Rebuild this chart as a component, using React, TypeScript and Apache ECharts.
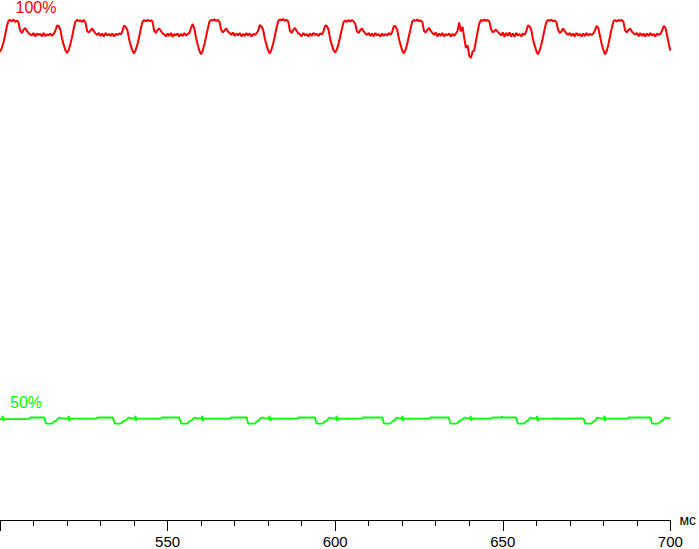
import React, { useEffect, useRef } from "react";
import * as echarts from "echarts";

// time axis (ms)
const X_MIN = 500;
const X_MAX = 700;
const X_LABEL_STEP = 50;
// red trace is sampled every 0.5 ms starting at 500 ms
const RED_T0 = 500;
const RED_STEP = 0.5;

// red trace (brightness 100%), arbitrary units, one array per flicker period
const redP0 = [469, 472.5, 478, 485.5, 494, 500, 501, 499.5, 501.5, 499, 500.5, 499, 490.5, 488, 491, 493, 490, 488, 486.5, 485.5, 488, 484.5, 487.5, 486, 487, 484.5, 488, 485, 486.5, 485.5, 487.5, 485, 487, 490, 495.5, 495, 491.5, 482.5, 476, 471];
const redP1 = [468, 471, 477, 484, 492.5, 499.5, 501, 500, 500.5, 499, 501, 498.5, 490, 488.5, 490.5, 492.5, 489.5, 487.5, 486, 488, 485, 487.5, 484.5, 488, 485.5, 487, 485, 487.5, 484.5, 487, 486, 487.5, 486.5, 489.5, 495.5, 494, 491, 482, 475.5, 470.5];
const redP2 = [467.5, 471, 476.5, 484, 492, 499, 501, 499.5, 501, 500, 500.5, 499.5, 490, 488, 491, 492.5, 490, 487.5, 486.5, 484.5, 487.5, 485, 488, 484, 487, 485.5, 487.5, 484.5, 487, 485, 488, 485.5, 487, 488, 493, 497, 492, 483, 476, 470];
const redP3 = [466.5, 470.5, 477, 484.5, 492.5, 499.5, 501, 500.5, 501.5, 500, 501, 499, 491, 488.5, 490.5, 492.5, 489.5, 488, 486, 488.5, 485, 487.5, 485.5, 488, 484.5, 487, 485, 488, 485.5, 487.5, 484.5, 487, 486, 487.5, 490, 496, 494.5, 491.5, 482.5, 476, 470.5];
const redP4 = [467.5, 471.5, 477.5, 485, 493, 500, 501.5, 500.5, 502, 500, 501, 499.5, 490, 488, 491, 493, 490, 487.5, 486.5, 484.5, 488, 485.5, 487, 484.5, 487.5, 485, 488, 486, 487, 485, 487.5, 486.5, 489.5, 495.5, 495, 491.5, 482, 476, 470.5];
const redP5 = [468.5, 471.5, 477, 484.5, 492, 499, 500.5, 499, 501, 499.5, 501, 499.5, 497, 489.5, 488, 491, 492.5, 489.5, 487.5, 486, 488, 485, 487.5, 484.5, 488, 485.5, 487, 484.5, 487.5, 485, 487, 485.5, 488, 486, 489, 495, 494.5, 491, 482.5, 476, 470.5];
const redP6 = [467.5, 471, 477.5, 485, 492.5, 499.5, 501, 500, 501.5, 499.5, 500.5, 499, 490, 488.5, 491, 493, 490, 488, 486, 488.5, 484.5, 487.5, 485, 488, 484.5, 487, 485.5, 487.5, 484.5, 487, 485, 487.5, 490, 498.5, 489.5, 494, 483, 473, 475.5, 465];
const redP7 = [463, 469.5, 470.5, 480, 489.5, 497.5, 501, 500, 501.5, 500, 501, 499.5, 492, 488.5, 490, 491.5, 489, 487.5, 485.5, 488.5, 484, 488, 485, 488.5, 484.5, 487.5, 484, 488, 485.5, 487, 484.5, 487.5, 486, 489.5, 495.5, 494.5, 491, 482, 475.5, 470];
const redP8 = [466.5, 470.5, 476.5, 484, 492, 499, 501, 500, 501.5, 499.5, 500.5, 499, 491, 488, 489.5, 492.5, 490, 487.5, 486, 488, 485, 487.5, 484.5, 488, 485.5, 487, 484.5, 487.5, 485, 488, 485.5, 487, 486, 487.5, 490.5, 495, 493, 485, 477, 471];
const redP9 = [466.5, 470, 476.5, 484.5, 492.5, 499.5, 501, 499.5, 501, 500, 501, 499, 490.5, 488.5, 491, 492.5, 489.5, 487.5, 486.5, 488, 484.5, 488, 485, 487.5, 484.5, 487.5, 485, 488, 485.5, 487, 484.5, 487.5, 486, 487, 490, 495, 493.5, 486, 477.5, 470.5];
const redValues = [...redP0, ...redP1, ...redP2, ...redP3, ...redP4, ...redP5, ...redP6, ...redP7, ...redP8, ...redP9];

// green trace (brightness 50%): [time ms, value] breakpoints
const greenPoints: [number, number][] = [
  [500.0, 101], [500.6, 101], [500.8, 104.3], [501.0, 99.3], [501.2, 101], [508.5, 101], [509.0, 102.7],
  [513.2, 102.7], [513.7, 97], [514.0, 96.5], [515.5, 96.5], [516.3, 99], [516.8, 99.5], [517.6, 102.7], [518.3, 102],
  [520.3, 101.5], [520.5, 104.3], [520.7, 99.3], [520.9, 101.5], [528.8, 101.5], [529.2, 102.7],
  [533.7, 102.7], [534.2, 97], [534.5, 96.5], [536.0, 96.5], [536.8, 99], [537.3, 99.5], [538.4, 102.7], [539.0, 102],
  [540.2, 101.5], [540.4, 104.3], [540.6, 99.3], [540.8, 101.5], [548.0, 101.5], [548.5, 102.7],
  [553.5, 102.7], [554.0, 97], [554.3, 96.5], [555.9, 96.5], [556.6, 99], [557.1, 99.5], [558.0, 102.7], [558.7, 102],
  [560.1, 101.5], [560.3, 104.3], [560.5, 99.3], [560.7, 101.5], [568.5, 101.5], [569.0, 102.7],
  [573.6, 102.7], [574.0, 97], [574.3, 96.5], [575.9, 96.5], [576.7, 99], [577.1, 99.5], [577.9, 102.7], [578.6, 102],
  [580.2, 101.5], [580.4, 104.3], [580.6, 99.3], [580.8, 101.5], [588.8, 101.5], [589.2, 102.7],
  [594.0, 102.7], [594.4, 97], [594.7, 96.5], [596.3, 96.5], [597.1, 99], [597.5, 99.5], [598.2, 102.7], [598.9, 102],
  [600.2, 101.5], [600.4, 104.3], [600.6, 99.3], [600.8, 101.5], [608.0, 101.5], [608.4, 102.7],
  [614.1, 102.7], [614.5, 97], [614.8, 96.5], [616.4, 96.5], [617.2, 99], [617.6, 99.5], [618.3, 102.7], [619.0, 102],
  [619.8, 101.5], [620.0, 104.3], [620.2, 99.3], [620.4, 101.5], [628.0, 101.5], [628.4, 102.7],
  [633.9, 102.7], [634.3, 97], [634.6, 96.5], [636.2, 96.5], [637.0, 99], [637.4, 99.5], [638.6, 102.7], [639.3, 102],
  [640.2, 101.5], [640.4, 104.3], [640.6, 99.3], [640.8, 101.5], [646.6, 101.5], [647.0, 102.7],
  [649.6, 102.7], [649.8, 103.7], [650.0, 102.7],
  [654.0, 102.7], [654.4, 97], [654.7, 96.5], [656.3, 96.5], [657.1, 99], [657.5, 99.5], [658.2, 102.7], [658.9, 102],
  [660.0, 101.5], [660.2, 104.3], [660.4, 99.3], [660.6, 101.5], [665.5, 101.5], [665.7, 102.5], [665.9, 101.5],
  [674.1, 101.7], [674.5, 97], [674.8, 96.5], [676.4, 96.5], [677.2, 99], [677.6, 99.5], [678.1, 102.7], [678.8, 102],
  [680.1, 101.5], [680.3, 104.3], [680.5, 99.3], [680.7, 101.5], [687.3, 101.5], [687.6, 102.7],
  [694.1, 102.7], [694.5, 97], [694.8, 96.5], [696.4, 96.5], [697.2, 99], [697.6, 99.5], [698.4, 102.7], [699.0, 102.2], [700.0, 102],
];

const LABEL_RED = "100%";
const LABEL_GREEN = "50%";
const X_UNIT = "мс";

const FONT = "'Liberation Sans', Arial, sans-serif";

export default function App() {
  const ref = useRef<HTMLDivElement>(null);
  useEffect(() => {
    if (!ref.current) return;
    const chart = echarts.init(ref.current, undefined, { renderer: "svg" });
    const redData = redValues.map((v, i) => [RED_T0 + i * RED_STEP, v]);
    chart.setOption({
      animation: false,
      backgroundColor: "#ffffff",
      grid: { left: 0, right: 27, top: 0, bottom: 28, containLabel: false },
      xAxis: {
        type: "value",
        min: X_MIN,
        max: X_MAX,
        interval: X_LABEL_STEP,
        name: X_UNIT,
        nameLocation: "end",
        nameGap: 9,
        nameTextStyle: { color: "#000", fontSize: 14, fontFamily: FONT },
        axisLine: { show: true, lineStyle: { color: "#000", width: 1 } },
        axisTick: { show: true, length: 11, lineStyle: { color: "#000", width: 1 } },
        minorTick: { show: true, splitNumber: 5, length: 6, lineStyle: { color: "#000", width: 1 } },
        axisLabel: { color: "#000", fontSize: 15, fontFamily: FONT, margin: 14, showMinLabel: false },
        splitLine: { show: false },
        minorSplitLine: { show: false },
      },
      yAxis: { type: "value", min: 0, max: 521, show: false },
      series: [
        {
          type: "line",
          data: redData,
          showSymbol: false,
          symbol: "none",
          lineStyle: { color: "#ff0000", width: 2 },
          z: 3,
        },
        {
          type: "line",
          data: greenPoints,
          showSymbol: false,
          symbol: "none",
          lineStyle: { color: "#00ff00", width: 1.8 },
          z: 2,
        },
      ],
      graphic: [
        {
          type: "text",
          x: 15.5,
          y: 7,
          style: {
            text: LABEL_RED,
            fill: "#ff0000",
            fontSize: 16,
            fontFamily: FONT,
            verticalAlign: "middle",
            textVerticalAlign: "middle",
          },
        },
        {
          type: "text",
          x: 10,
          y: 402.5,
          style: {
            text: LABEL_GREEN,
            fill: "#00ff00",
            fontSize: 16,
            fontFamily: FONT,
            verticalAlign: "middle",
            textVerticalAlign: "middle",
          },
        },
      ],
    });
    return () => chart.dispose();
  }, []);
  return (
    <div
      ref={ref}
      style={{ position: "absolute", left: 0, top: 0, width: 699, height: 549, background: "#fff" }}
    />
  );
}
